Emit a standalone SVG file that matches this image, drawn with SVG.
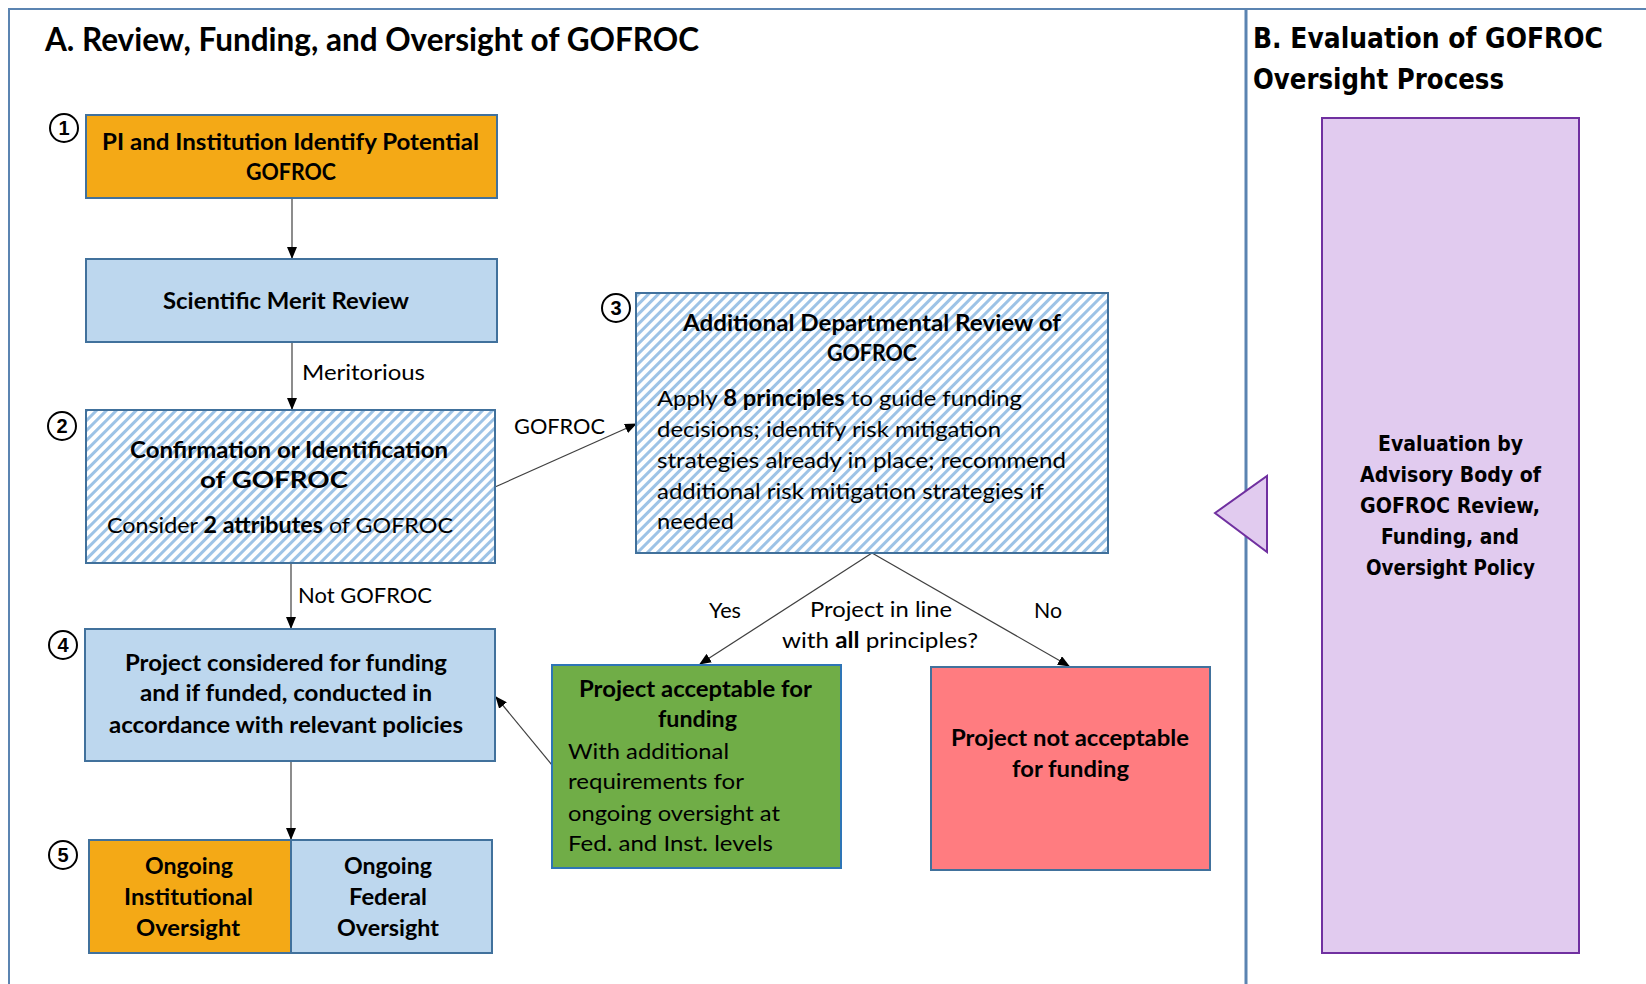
<svg xmlns="http://www.w3.org/2000/svg" width="1646" height="984" viewBox="0 0 1646 984">
<style>
.t{font-family:Lato,"Liberation Sans",sans-serif;font-size:22px;fill:#000}
.b{font-weight:bold}
.h{font-family:Lato,"Liberation Sans",sans-serif;font-size:32px;font-weight:bold;fill:#000}
.w{font-family:"DejaVu Sans","Liberation Sans",sans-serif;font-weight:bold;fill:#000}
.num{font-family:"Liberation Sans",sans-serif;font-size:20px;font-weight:bold;fill:#000}
.circ{fill:#fff;stroke:#000;stroke-width:2}
.conn{stroke:#404040;stroke-width:1.2;fill:none}
.blue{fill:#BDD7EE;stroke:#41719C;stroke-width:2}
.orange{fill:#F4A916;stroke:#41719C;stroke-width:2}
.hatch{fill:url(#hp);stroke:#41719C;stroke-width:2}
</style>
<defs>
<pattern id="hp" width="7" height="7" patternUnits="userSpaceOnUse" patternTransform="rotate(45)">
<rect width="7" height="7" fill="#fff"/>
<rect width="3" height="7" fill="#9DC3E6"/>
</pattern>
<marker id="ar" markerWidth="12" markerHeight="10" refX="11" refY="5" orient="auto" markerUnits="userSpaceOnUse">
<path d="M0,0 L12,5 L0,10 Z" fill="#000"/>
</marker>
</defs>
<rect width="1646" height="984" fill="#fff"/>
<g id="frame">
<path d="M9,984 V9 H1646" fill="none" stroke="#5B84B1" stroke-width="2"/>
<line x1="1246" y1="9" x2="1246" y2="984" stroke="#5B84B1" stroke-width="3"/>
</g>
<text class="h" x="45" y="51" textLength="654" lengthAdjust="spacingAndGlyphs">A. Review, Funding, and Oversight of GOFROC</text>
<g id="titleB">
<text class="w" font-size="28" x="1253" y="48" textLength="350" lengthAdjust="spacingAndGlyphs">B. Evaluation of GOFROC</text>
<text class="w" font-size="28" x="1253" y="89" textLength="251" lengthAdjust="spacingAndGlyphs">Oversight Process</text>
</g>
<g id="connectors">
<line class="conn" x1="292" y1="198" x2="292" y2="258" marker-end="url(#ar)"/>
<line class="conn" x1="292" y1="342" x2="292" y2="409" marker-end="url(#ar)"/>
<line class="conn" x1="495" y1="487" x2="636" y2="424" marker-end="url(#ar)"/>
<line class="conn" x1="291" y1="563" x2="291" y2="628" marker-end="url(#ar)"/>
<line class="conn" x1="872" y1="553" x2="700" y2="664" marker-end="url(#ar)"/>
<line class="conn" x1="872" y1="553" x2="1069" y2="666" marker-end="url(#ar)"/>
<line class="conn" x1="552" y1="765" x2="496" y2="697" marker-end="url(#ar)"/>
<line class="conn" x1="291" y1="761" x2="291" y2="839" marker-end="url(#ar)"/>
<text class="t" x="302" y="380" textLength="123" lengthAdjust="spacingAndGlyphs">Meritorious</text>
<text class="t" x="514" y="434" textLength="91" lengthAdjust="spacingAndGlyphs">GOFROC</text>
<text class="t" x="298" y="603" textLength="134" lengthAdjust="spacingAndGlyphs">Not GOFROC</text>
<text class="t" x="709" y="618" textLength="32" lengthAdjust="spacingAndGlyphs">Yes</text>
<text class="t" x="1034" y="618" textLength="28" lengthAdjust="spacingAndGlyphs">No</text>
<text class="t" x="810" y="617" textLength="142" lengthAdjust="spacingAndGlyphs">Project in line</text>
<text class="t" x="782" y="648" textLength="196" lengthAdjust="spacingAndGlyphs">with <tspan class="b">all</tspan> principles?</text>
</g>
<g id="n1">
<rect class="orange" x="86" y="115" width="411" height="83"/>
<text class="t b" x="102" y="150" textLength="377" lengthAdjust="spacingAndGlyphs">PI and Institution Identify Potential</text>
<text class="t b" x="246" y="180" textLength="90" lengthAdjust="spacingAndGlyphs">GOFROC</text>
<circle class="circ" cx="64" cy="128" r="14"/>
<text class="num" x="64" y="135" text-anchor="middle">1</text>
</g>
<g id="smr">
<rect class="blue" x="86" y="259" width="411" height="83"/>
<text class="t b" x="163" y="309" textLength="246" lengthAdjust="spacingAndGlyphs">Scientific Merit Review</text>
</g>
<g id="n2">
<rect class="hatch" x="86" y="410" width="409" height="153"/>
<text class="t b" x="130" y="458" textLength="318" lengthAdjust="spacingAndGlyphs">Confirmation or Identification</text>
<text class="t b" x="200" y="488" textLength="148" lengthAdjust="spacingAndGlyphs">of GOFROC</text>
<text class="t" x="107" y="533" textLength="346" lengthAdjust="spacingAndGlyphs">Consider <tspan class="b">2 attributes</tspan> of GOFROC</text>
<circle class="circ" cx="62" cy="426" r="14"/>
<text class="num" x="62" y="433" text-anchor="middle">2</text>
</g>
<g id="n3">
<rect class="hatch" x="636" y="293" width="472" height="260"/>
<text class="t b" x="683" y="331" textLength="378" lengthAdjust="spacingAndGlyphs">Additional  Departmental Review of</text>
<text class="t b" x="827" y="361" textLength="90" lengthAdjust="spacingAndGlyphs">GOFROC</text>
<text class="t" x="657" y="406" textLength="365" lengthAdjust="spacingAndGlyphs">Apply <tspan class="b">8 principles</tspan> to guide funding</text>
<text class="t" x="657" y="437" textLength="344" lengthAdjust="spacingAndGlyphs">decisions; identify risk mitigation</text>
<text class="t" x="657" y="468" textLength="409" lengthAdjust="spacingAndGlyphs">strategies already in place; recommend</text>
<text class="t" x="657" y="499" textLength="387" lengthAdjust="spacingAndGlyphs">additional risk mitigation strategies if</text>
<text class="t" x="657" y="529" textLength="77" lengthAdjust="spacingAndGlyphs">needed</text>
<circle class="circ" cx="616" cy="308" r="14"/>
<text class="num" x="616" y="315" text-anchor="middle">3</text>
</g>
<g id="n4">
<rect class="blue" x="85" y="629" width="410" height="132"/>
<text class="t b" x="125" y="671" textLength="322" lengthAdjust="spacingAndGlyphs">Project considered for funding</text>
<text class="t b" x="140" y="701" textLength="292" lengthAdjust="spacingAndGlyphs">and if funded, conducted in</text>
<text class="t b" x="109" y="733" textLength="354" lengthAdjust="spacingAndGlyphs">accordance  with relevant policies</text>
<circle class="circ" cx="63" cy="645" r="14"/>
<text class="num" x="63" y="652" text-anchor="middle">4</text>
</g>
<g id="accept">
<rect x="552" y="665" width="289" height="203" fill="#70AD47" stroke="#2E75B6" stroke-width="2"/>
<text class="t b" x="579" y="697" textLength="233" lengthAdjust="spacingAndGlyphs">Project acceptable for</text>
<text class="t b" x="658" y="727" textLength="79" lengthAdjust="spacingAndGlyphs">funding</text>
<text class="t" x="568" y="759" textLength="161" lengthAdjust="spacingAndGlyphs">With additional</text>
<text class="t" x="568" y="789" textLength="176" lengthAdjust="spacingAndGlyphs">requirements for</text>
<text class="t" x="568" y="821" textLength="212" lengthAdjust="spacingAndGlyphs">ongoing oversight at</text>
<text class="t" x="568" y="851" textLength="205" lengthAdjust="spacingAndGlyphs">Fed. and Inst. levels</text>
</g>
<g id="reject">
<rect x="931" y="667" width="279" height="203" fill="#FF7C80" stroke="#41719C" stroke-width="2"/>
<text class="t b" x="951" y="746" textLength="238" lengthAdjust="spacingAndGlyphs">Project not acceptable</text>
<text class="t b" x="1012" y="777" textLength="117" lengthAdjust="spacingAndGlyphs">for funding</text>
</g>
<g id="n5">
<rect class="orange" x="89" y="840" width="202" height="113"/>
<rect class="blue" x="291" y="840" width="201" height="113"/>
<text class="t b" x="145" y="874" textLength="88" lengthAdjust="spacingAndGlyphs">Ongoing</text>
<text class="t b" x="124" y="905" textLength="129" lengthAdjust="spacingAndGlyphs">Institutional</text>
<text class="t b" x="136" y="936" textLength="104" lengthAdjust="spacingAndGlyphs">Oversight</text>
<text class="t b" x="344" y="874" textLength="88" lengthAdjust="spacingAndGlyphs">Ongoing</text>
<text class="t b" x="349" y="905" textLength="78" lengthAdjust="spacingAndGlyphs">Federal</text>
<text class="t b" x="337" y="936" textLength="102" lengthAdjust="spacingAndGlyphs">Oversight</text>
<circle class="circ" cx="63" cy="855" r="14"/>
<text class="num" x="63" y="862" text-anchor="middle">5</text>
</g>
<g id="evaluation">
<rect x="1322" y="118" width="257" height="835" fill="#E1CBEF" stroke="#7030A0" stroke-width="2"/>
<polygon points="1215,513 1267,476 1267,552" fill="#E1CBEF" stroke="#7030A0" stroke-width="2"/>
<text class="w" font-size="21" x="1378" y="451" textLength="145" lengthAdjust="spacingAndGlyphs">Evaluation  by</text>
<text class="w" font-size="21" x="1360" y="482" textLength="181" lengthAdjust="spacingAndGlyphs">Advisory Body of</text>
<text class="w" font-size="21" x="1360" y="513" textLength="180" lengthAdjust="spacingAndGlyphs">GOFROC Review,</text>
<text class="w" font-size="21" x="1381" y="544" textLength="138" lengthAdjust="spacingAndGlyphs">Funding,  and</text>
<text class="w" font-size="21" x="1366" y="575" textLength="169" lengthAdjust="spacingAndGlyphs">Oversight Policy</text>
</g>
</svg>
